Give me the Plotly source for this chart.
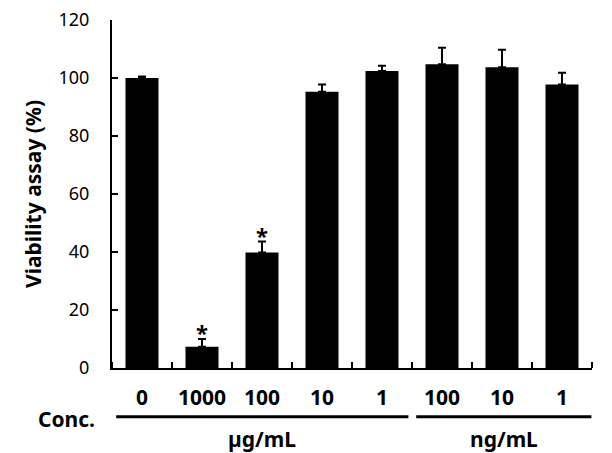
import plotly.graph_objects as go

# ---- data ----
conc_labels = ["0", "1000", "100", "10", "1", "100", "10", "1"]
viability = [100.0, 7.3, 39.8, 95.3, 102.4, 104.7, 103.7, 97.8]
sd = [0.5, 2.7, 3.8, 2.5, 1.8, 5.7, 6.0, 4.0]
significant = [False, True, True, False, False, False, False, False]
y_ticks = [0, 20, 40, 60, 80, 100, 120]
unit_groups = ["µg/mL", "ng/mL"]

x_pos = list(range(len(conc_labels)))
FONT = "Noto Sans"

fig = go.Figure()
fig.add_trace(go.Bar(
    x=x_pos, y=viability, width=0.55,
    marker=dict(color="black", line=dict(width=0)),
    error_y=dict(type="data", array=sd, arrayminus=[0] * len(sd), symmetric=False,
                 color="black", thickness=2, width=4),
    showlegend=False,
))

for i, sig in enumerate(significant):
    if sig:
        fig.add_annotation(x=x_pos[i], y=viability[i] + sd[i], text="<b>*</b>",
                           showarrow=False, yanchor="bottom", yshift=-10,
                           font=dict(family=FONT, size=22, color="black"))

# page body has an 8px default margin, so the figure is sized/shifted accordingly
fig.update_layout(
    width=604, height=445,
    margin=dict(l=104, r=20, t=12, b=85, autoexpand=False),
    plot_bgcolor="white", paper_bgcolor="white",
    font=dict(family=FONT, color="black"),
)

fig.update_xaxes(
    range=[-0.5, 7.5], tickmode="array", tickvals=x_pos,
    ticktext=[f"<b>{t}</b>" for t in conc_labels],
    tickfont=dict(family=FONT, size=21, color="black"),
    ticks="", ticklabelstandoff=10,
    showline=True, linecolor="black", linewidth=2,
    showgrid=False, zeroline=False,
    minor=dict(tick0=0.5, dtick=1, ticks="inside", ticklen=6, tickwidth=2, tickcolor="black"),
)
fig.update_yaxes(
    range=[0, 120.001], tickmode="array", tickvals=y_ticks,
    tickfont=dict(family=FONT, size=18, color="black"),
    ticks="inside", ticklen=6, tickwidth=2, tickcolor="black",
    ticklabelstandoff=17, ticklabeloverflow="allow",
    showline=True, linecolor="black", linewidth=2,
    showgrid=False, zeroline=False,
    title=dict(text="<b>Viability assay (%)</b>", font=dict(family=FONT, size=21), standoff=11),
)

# grouping lines under category labels
line_y = -0.14
fig.add_shape(type="line", xref="x", yref="paper", x0=-0.43, x1=4.44, y0=line_y, y1=line_y,
              line=dict(color="black", width=3))
fig.add_shape(type="line", xref="x", yref="paper", x0=4.57, x1=7.49, y0=line_y, y1=line_y,
              line=dict(color="black", width=3))

fig.add_annotation(xref="paper", yref="paper", x=-0.094, y=-0.147, text="<b>Conc.</b>",
                   showarrow=False, xanchor="center", yanchor="middle",
                   font=dict(family=FONT, size=21, color="black"))
fig.add_annotation(xref="x", yref="paper", x=2.0, y=-0.203, text=f"<b>{unit_groups[0]}</b>",
                   showarrow=False, yanchor="middle",
                   font=dict(family=FONT, size=21, color="black"))
fig.add_annotation(xref="x", yref="paper", x=6.03, y=-0.203, text=f"<b>{unit_groups[1]}</b>",
                   showarrow=False, yanchor="middle",
                   font=dict(family=FONT, size=21, color="black"))

fig.write_html("out.html")
